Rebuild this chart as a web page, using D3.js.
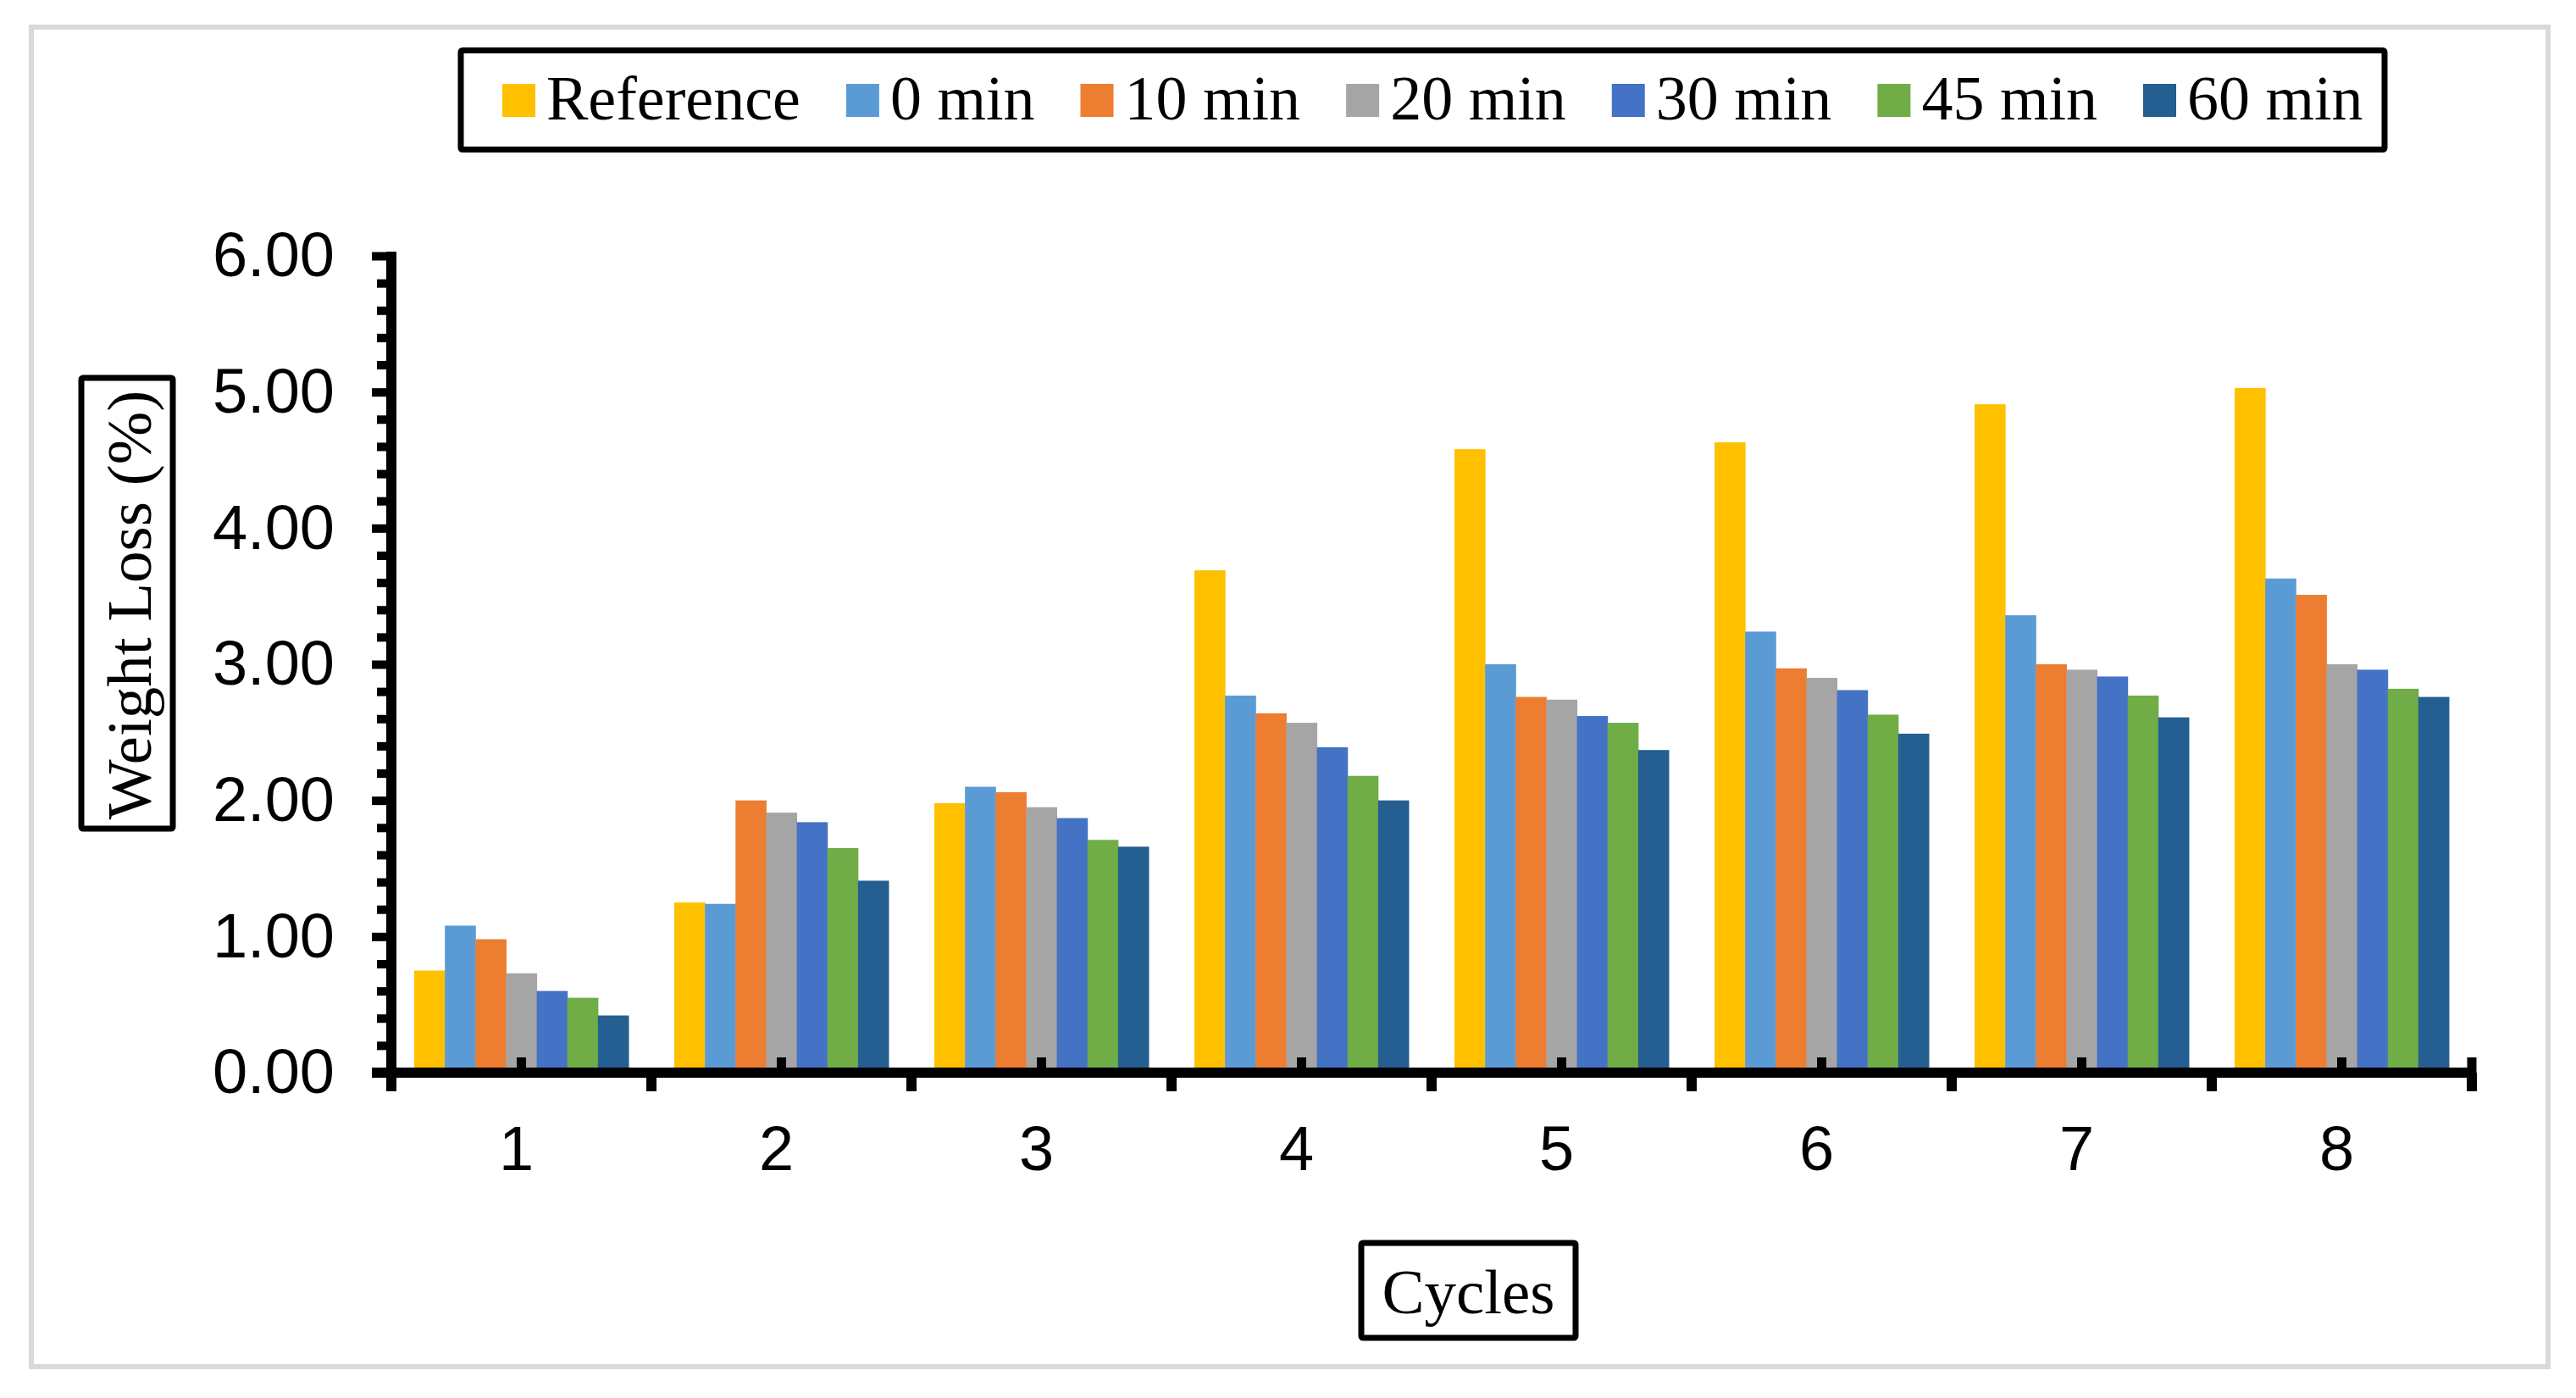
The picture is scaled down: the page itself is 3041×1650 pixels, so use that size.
<!DOCTYPE html>
<html>
<head>
<meta charset="utf-8">
<script src="https://cdn.jsdelivr.net/npm/d3@7"></script>
<style>
  html, body { margin: 0; padding: 0; background: #ffffff; }
  svg { display: block; }
</style>
</head>
<body>
<svg id="chart" width="3041" height="1650"></svg>
<script>
// ---- data ----
const cycles = ["1", "2", "3", "4", "5", "6", "7", "8"];
const seriesNames = ["Reference", "0 min", "10 min", "20 min", "30 min", "45 min", "60 min"];
const seriesColors = ["#FFC000", "#5B9BD5", "#ED7D31", "#A5A5A5", "#4472C4", "#70AD47", "#255E91"];
const reference = [0.75, 1.25, 1.98, 3.69, 4.58, 4.63, 4.91, 5.03];
const min0      = [1.08, 1.24, 2.10, 2.77, 3.00, 3.24, 3.36, 3.63];
const min10     = [0.98, 2.00, 2.06, 2.64, 2.76, 2.97, 3.00, 3.51];
const min20     = [0.73, 1.91, 1.95, 2.57, 2.74, 2.90, 2.96, 3.00];
const min30     = [0.60, 1.84, 1.87, 2.39, 2.62, 2.81, 2.91, 2.96];
const min45     = [0.55, 1.65, 1.71, 2.18, 2.57, 2.63, 2.77, 2.82];
const min60     = [0.42, 1.41, 1.66, 2.00, 2.37, 2.49, 2.61, 2.76];
const yTicks = [0, 1, 2, 3, 4, 5, 6];
const yTitle = "Weight Loss (%)";
const xTitle = "Cycles";

const seriesValues = [reference, min0, min10, min20, min30, min45, min60];

// ---- layout ----
const svg = d3.select("#chart");
const X0 = 462, X1 = 2918, Y0 = 1266, Y6 = 302;
const sansFont = "'Liberation Sans', Arial, sans-serif";
const serifFont = "'Liberation Serif', 'Times New Roman', serif";

// outer frame
svg.append("rect")
  .attr("x", 37).attr("y", 32).attr("width", 2971).attr("height", 1581)
  .attr("fill", "#ffffff").attr("stroke", "#D9D9D9").attr("stroke-width", 6);

const x = d3.scaleBand().domain(cycles).range([X0, X1]).paddingInner(0.176).paddingOuter(0.088);
const xs = d3.scaleBand().domain(seriesNames).range([0, x.bandwidth()]);
const y = d3.scaleLinear().domain([0, 6]).range([Y0, Y6]);

// bars
const groups = svg.append("g").selectAll("g")
  .data(cycles)
  .join("g")
  .attr("transform", d => `translate(${x(d)},0)`);

groups.selectAll("rect")
  .data((c, i) => seriesNames.map((s, j) => ({ s, j, v: seriesValues[j][i] })))
  .join("rect")
  .attr("x", d => xs(d.s))
  .attr("width", xs.bandwidth() + 0.5)
  .attr("y", d => y(d.v))
  .attr("height", d => y(0) - y(d.v))
  .attr("fill", d => seriesColors[d.j]);

// y axis: minor ticks
const minorVals = d3.range(0, 30).map(i => i * 0.2).filter(v => Math.abs(v - Math.round(v)) > 1e-6);
const yMinor = svg.append("g").attr("transform", `translate(${X0},0)`)
  .call(d3.axisLeft(y).tickValues(minorVals).tickSize(17).tickFormat(""));
yMinor.select(".domain").remove();
yMinor.selectAll(".tick line").attr("stroke", "#000").attr("stroke-width", 10);

// y axis: major ticks + labels
const yAxis = svg.append("g").attr("transform", `translate(${X0},0)`)
  .call(d3.axisLeft(y).tickValues(yTicks).tickSize(23).tickPadding(44).tickFormat(d3.format(".2f")));
yAxis.select(".domain").remove();
yAxis.selectAll(".tick line").attr("stroke", "#000").attr("stroke-width", 10);
yAxis.selectAll(".tick text")
  .attr("font-family", sansFont).attr("font-size", 74).attr("fill", "#000");
svg.append("line")
  .attr("x1", X0).attr("x2", X0).attr("y1", y(6) - 5).attr("y2", y(0))
  .attr("stroke", "#000").attr("stroke-width", 12);

// x axis labels
const xAxis = svg.append("g").attr("transform", `translate(-6,${Y0})`)
  .call(d3.axisBottom(x).tickSize(0).tickPadding(62));
xAxis.select(".domain").remove();
xAxis.selectAll(".tick text")
  .attr("font-family", sansFont).attr("font-size", 74).attr("fill", "#000");

// x axis line and ticks
const stepPad = x.step() * x.paddingOuter();
const boundaries = cycles.map(c => x(c) - stepPad).concat([X1]);
svg.append("line")
  .attr("x1", X0 - 23).attr("x2", X1 + 5).attr("y1", Y0).attr("y2", Y0)
  .attr("stroke", "#000").attr("stroke-width", 12);
svg.append("g").selectAll("line")
  .data(boundaries)
  .join("line")
  .attr("x1", d => d).attr("x2", d => d)
  .attr("y1", Y0).attr("y2", Y0 + 22)
  .attr("stroke", "#000").attr("stroke-width", 12);
svg.append("g").selectAll("line")
  .data(cycles.map(c => x(c) + x.bandwidth() / 2).concat([X1]))
  .join("line")
  .attr("x1", d => d).attr("x2", d => d)
  .attr("y1", Y0).attr("y2", Y0 - 18)
  .attr("stroke", "#000").attr("stroke-width", 11);

// legend
svg.append("rect")
  .attr("x", 544).attr("y", 59.5).attr("width", 2271).attr("height", 117)
  .attr("rx", 2)
  .attr("fill", "#fff").attr("stroke", "#000").attr("stroke-width", 7);
const legend = svg.append("g");
let lx = 593;
seriesNames.forEach((name, j) => {
  legend.append("rect")
    .attr("x", lx).attr("y", 99).attr("width", 39).attr("height", 39)
    .attr("fill", seriesColors[j]);
  const t = legend.append("text")
    .attr("x", lx + 52).attr("y", 141)
    .attr("font-family", serifFont).attr("font-size", 74).attr("fill", "#000")
    .text(name);
  lx = lx + 52 + t.node().getComputedTextLength() + 54;
});

// y title
svg.append("rect")
  .attr("x", 96).attr("y", 446).attr("width", 108).attr("height", 532)
  .attr("rx", 2)
  .attr("fill", "#fff").attr("stroke", "#000").attr("stroke-width", 7);
svg.append("text")
  .attr("transform", "translate(178,714) rotate(-90)")
  .attr("text-anchor", "middle")
  .attr("font-family", serifFont).attr("font-size", 75).attr("fill", "#000")
  .text(yTitle);

// x title
svg.append("rect")
  .attr("x", 1607).attr("y", 1467).attr("width", 253).attr("height", 112)
  .attr("rx", 2)
  .attr("fill", "#fff").attr("stroke", "#000").attr("stroke-width", 7);
svg.append("text")
  .attr("x", 1733.5).attr("y", 1550)
  .attr("text-anchor", "middle")
  .attr("font-family", serifFont).attr("font-size", 75).attr("fill", "#000")
  .text(xTitle);
</script>
</body>
</html>
